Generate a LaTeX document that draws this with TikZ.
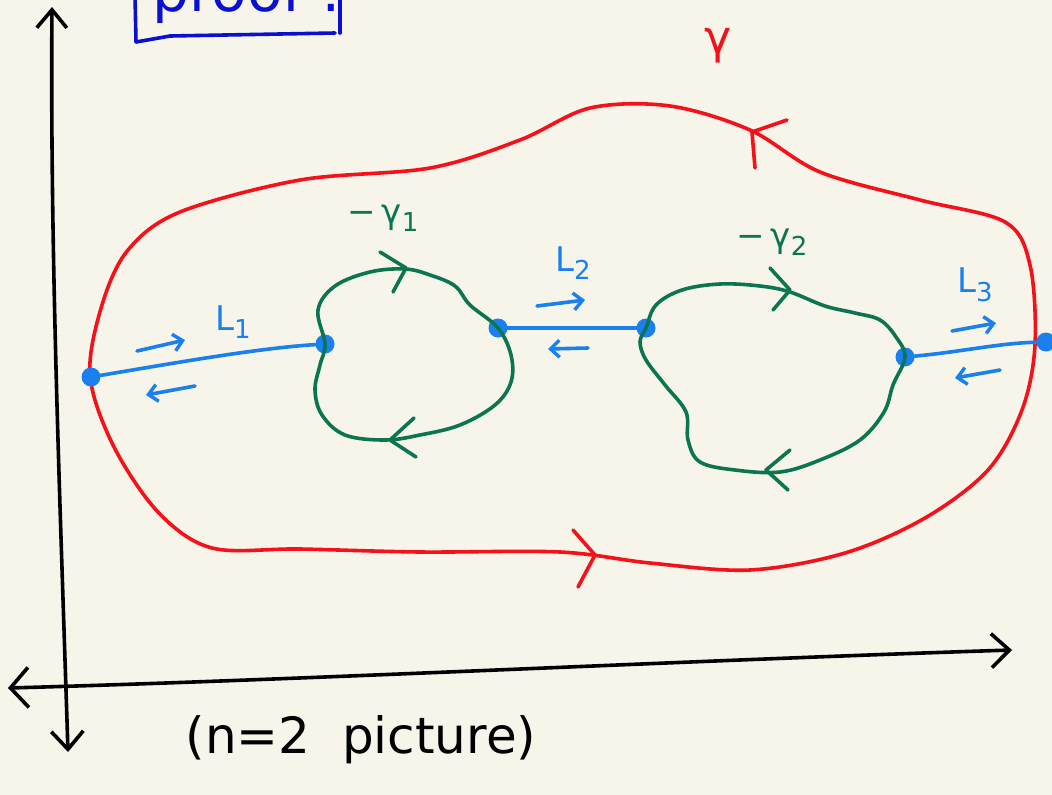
\documentclass[tikz,border=0pt]{standalone}
\usepackage{fontspec}
\setmainfont{DejaVu Sans}
\usetikzlibrary{arrows.meta}
\definecolor{paper}{HTML}{F7F5EA}
\definecolor{gred}{HTML}{F5101A}
\definecolor{ggreen}{HTML}{0B7550}
\definecolor{gblue}{HTML}{1A80F0}
\definecolor{pblue}{HTML}{0A10D0}
\newcommand{\sub}[1]{\raisebox{-0.25em}{\fontsize{26}{28}\selectfont #1}}
\tikzset{
  pen/.style={line width=3.6pt, line cap=round, line join=round},
  redpen/.style={pen, gred},
  greenpen/.style={pen, ggreen},
  bluepen/.style={pen, gblue},
  axispen/.style={pen, black},
  dot/.style={circle, fill=gblue, inner sep=0pt, minimum size=19pt},
  lbl/.style={font=\fontsize{34}{38}\selectfont},
  harrow/.style={bluepen, -{Straight Barb[length=9pt,width=17pt,line width=3.4pt]}},
}
\begin{document}
\begin{tikzpicture}[x=1pt,y=-1pt]
\fill[paper] (0,0) rectangle (1052,795);
\useasboundingbox (0,0) rectangle (1052,795);
\clip (0,0) rectangle (1052,795);

% proof box (cut at the top)
\node[pblue, anchor=base west, font=\fontsize{58}{60}\selectfont, inner sep=0pt] (proof) at (152,12) {proof :};
\draw[pen, pblue] (135,-5) -- (136,42) -- (170,36) -- (335,33);
\draw[pen, pblue] (340,-5) -- (340,33);

% axes
\coordinate (ytop) at (52,7);
\coordinate (ybot) at (68,752);
\coordinate (xleft) at (8,688);
\coordinate (xright) at (1012,650);
\draw[axispen, {Straight Barb[length=18pt,width=32pt,line width=3.6pt]}-{Straight Barb[length=18pt,width=30pt,line width=3.6pt]}]
  (ybot) .. controls (60,500) and (50,250) .. (ytop);
\draw[axispen, {Straight Barb[length=18pt,width=40pt,line width=3.6pt]}-{Straight Barb[length=18pt,width=34pt,line width=3.6pt]}]
  (xleft) .. controls (300,680) and (700,660) .. (xright);

% red curve gamma
\draw[redpen] plot[smooth cycle, tension=0.55] coordinates {
 (90,375) (102,305) (128,250) (180,212) (300,180) (430,168) (520,140)
 (590,108) (670,106) (750,130) (820,172) (920,200) (1005,222) (1030,265)
 (1035,345) (1022,410) (988,470) (925,518) (845,553) (750,570) (650,563)
 (560,552) (420,552) (300,549) (212,548) (158,512) (113,445)};
\draw[redpen] (787,120) -- (752,132) -- (755,168);
\draw[redpen] (573,530) -- (595,555) -- (578,587);
\node[gred, font=\fontsize{46}{50}\selectfont] (gam) at (718,46) {γ};

% blue dots
\node[dot] (p0) at (91,377) {};
\node[dot] (p1) at (325,344) {};
\node[dot] (p2) at (498,328) {};
\node[dot] (p3) at (646,328) {};
\node[dot] (p4) at (905,357) {};
\node[dot] (p5) at (1046,342) {};

% green loops
\draw[greenpen] plot[smooth cycle, tension=0.6] coordinates {
 (325,344) (318,310) (335,286) (370,272) (405,269) (430,275) (455,286)
 (470,305) (498,328) (511,355) (511,382) (495,405) (460,425) (420,435)
 (385,440) (345,435) (322,415) (315,390) (320,365)};
\draw[greenpen] (380,252) -- (406,268) -- (393,292);
\draw[greenpen] (414,418) -- (390,440) -- (416,457);
\node[lbl, ggreen] (g1) at (383,218) {−\,γ\sub{1}};

\draw[greenpen] plot[smooth cycle, tension=0.6] coordinates {
 (646,328) (656,305) (682,290) (720,284) (760,286) (790,292) (825,306)
 (855,313) (880,320) (896,337) (905,357) (893,385) (884,412) (860,440)
 (820,460) (780,472) (735,470) (700,462) (688,440) (686,412) (665,385)
 (646,360) (640,342)};
\draw[greenpen] (770,268) -- (790,290) -- (773,310);
\draw[greenpen] (790,450) -- (766,470) -- (788,490);
\node[lbl, ggreen] (g2) at (772,242) {−\,γ\sub{2}};

% blue segments
\draw[bluepen] (p0) .. controls (180,362) and (260,348) .. (p1);
\draw[bluepen] (p2) -- (p3);
\draw[bluepen] (p4) .. controls (960,352) and (1000,343) .. (p5);

% blue direction arrows
\draw[harrow] (137,351) -- (185,340);
\draw[harrow] (195,386) -- (146,395);
\draw[harrow] (537,306) -- (585,300);
\draw[harrow] (588,348) -- (548,349);
\draw[harrow] (952,331) -- (996,323);
\draw[harrow] (1000,370) -- (955,378);

\node[lbl, gblue] (L1) at (233,322) {L\sub{1}};
\node[lbl, gblue] (L2) at (573,263) {L\sub{2}};
\node[lbl, gblue] (L3) at (975,285) {L\sub{3}};

% caption
\node[font=\fontsize{50}{54}\selectfont, anchor=west] (cap) at (182,740) {(n=2\ \ picture)};
\end{tikzpicture}
\end{document}
